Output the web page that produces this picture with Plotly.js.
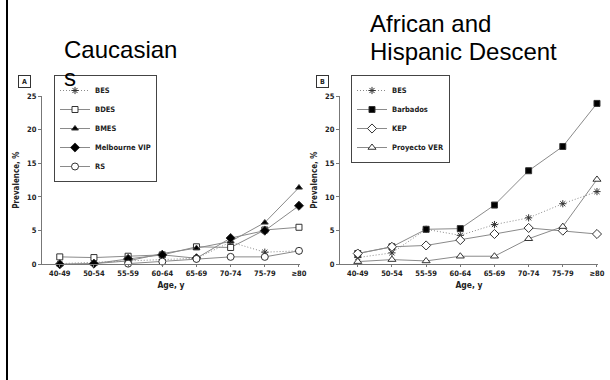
<!DOCTYPE html>
<html>
<head>
<meta charset="utf-8">
<script src="https://cdn.plot.ly/plotly-3.0.1.min.js"></script>
<style>html,body{margin:0;padding:0;background:#fff;}#chart{width:610px;height:380px;}</style>
</head>
<body>
<div id="chart"></div>
<script>
// ---- data ----
var ageGroups = ["40-49", "50-54", "55-59", "60-64", "65-69", "70-74", "75-79", "\u226580"];

// Panel A: Caucasians
var cauBES        = [0.1, 0.3, 0.5, 0.7, 0.9, 3.3, 1.8, 2.0];
var cauBDES       = [1.1, 1.0, 1.2, 1.4, 2.6, 2.5, 5.1, 5.5];
var cauBMES       = [0.0, 0.1, 0.5, 1.6, 2.4, 3.4, 6.2, 11.4];
var cauMelbourne  = [0.0, 0.1, 0.8, 1.4, 0.9, 3.9, 5.0, 8.7];
var cauRS         = [null, null, 0.1, 0.4, 0.8, 1.1, 1.1, 2.0];

// Panel B: African and Hispanic descent
var afrBES        = [1.0, 1.7, 5.2, 4.3, 5.9, 6.9, 9.0, 10.8];
var afrBarbados   = [1.6, 2.6, 5.2, 5.3, 8.8, 13.9, 17.5, 23.9];
var afrKEP        = [1.6, 2.6, 2.8, 3.6, 4.5, 5.4, 5.0, 4.5];
var afrVER        = [0.4, 0.7, 0.5, 1.2, 1.2, 3.8, 5.6, 12.6];

var panelTitles = ["Caucasian", "s", "African and", "Hispanic Descent"];
var panelLetters = ["A", "B"];
var yTicks = [0, 5, 10, 15, 20, 25];

// ---- styles ----
var W = 610, H = 380;
var lineGray = "#8a8a8a";
var mk = "#333";
var smallFont = {family: "DejaVu Sans Condensed, Liberation Sans Narrow, sans-serif", size: 7.5, color: "#222", weight: "bold"};

function tr(name, y, axis, symbol, fill, dash, legend, size) {
  return {
    type: "scatter", mode: "lines+markers", name: name,
    x: ageGroups, y: y, xaxis: axis[0], yaxis: axis[1],
    legend: legend, cliponaxis: false, connectgaps: false,
    line: {color: lineGray, width: 1, dash: dash || "solid"},
    marker: {symbol: symbol, size: size || 6, color: fill, line: {color: mk, width: 1}}
  };
}

var A = ["x", "y"], B = ["x2", "y2"];
var dotted = "1px,2px";
var data = [
  tr("BES", cauBES, A, "asterisk-open", mk, dotted, "legend", 6),
  tr("BDES", cauBDES, A, "square", "#fff", null, "legend", 6),
  tr("BMES", cauBMES, A, "triangle-up", "#000", null, "legend", 6),
  tr("Melbourne VIP", cauMelbourne, A, "diamond", "#000", null, "legend", 7),
  tr("RS", cauRS, A, "circle", "#fff", null, "legend", 7),
  tr("BES", afrBES, B, "asterisk-open", mk, dotted, "legend2", 6),
  tr("Barbados", afrBarbados, B, "square", "#000", null, "legend2", 6),
  tr("KEP", afrKEP, B, "diamond", "#fff", null, "legend2", 7),
  tr("Proyecto VER", afrVER, B, "triangle-up", "#fff", null, "legend2", 7)
];

function px2x(p) { return p / W; }
function px2y(p) { return 1 - p / H; }

var yBottom = px2y(264.3), yTop = px2y(96);

function xa(d0, d1, anchor) {
  return {
    domain: [d0, d1], anchor: anchor, type: "category",
    categoryarray: ageGroups, range: [-0.52, 7.03],
    showline: true, linecolor: "#777", linewidth: 1, showgrid: false, zeroline: false,
    ticks: "outside", ticklen: 2, tickcolor: "#777", tickfont: smallFont,
    title: {text: "Age, y", font: {family: smallFont.family, size: 8.5, color: "#222", weight: "bold"}, standoff: 4},
    fixedrange: true
  };
}
function ya(anchor) {
  return {
    domain: [yBottom, yTop], anchor: anchor, range: [0, 25],
    tickvals: yTicks, showline: true, linecolor: "#777", linewidth: 1,
    showgrid: false, zeroline: false, ticks: "outside", ticklen: 3, tickcolor: "#777",
    tickfont: smallFont,
    title: {text: "Prevalence, %", font: {family: smallFont.family, size: 8, color: "#222", weight: "bold"}, standoff: 6},
    fixedrange: true
  };
}

function legendBox(xpx, ypx) {
  return {
    x: px2x(xpx), y: px2y(ypx), xanchor: "left", yanchor: "top",
    bgcolor: "#fff", bordercolor: "#444", borderwidth: 1,
    font: smallFont, tracegroupgap: 0, itemwidth: 30
  };
}

var bigFont = {family: "Liberation Sans, Arial, sans-serif", size: 24, color: "#000"};
function bigTitle(text, xpx, ypx) {
  return {text: text, xref: "paper", yref: "paper", x: px2x(xpx), y: px2y(ypx),
          xanchor: "left", yanchor: "middle", showarrow: false, font: bigFont};
}
function letterBox(text, xpx, ypx) {
  return {text: "<b>" + text + "</b>", xref: "paper", yref: "paper", x: px2x(xpx), y: px2y(ypx),
          xanchor: "center", yanchor: "middle", showarrow: false,
          font: {family: smallFont.family, size: 7, color: "#222"},
          bordercolor: "#333", borderwidth: 1, borderpad: 1.5, bgcolor: "#fff", width: 8, height: 8};
}

var layout = {
  width: W, height: H, margin: {l: 0, r: 0, t: 0, b: 0},
  paper_bgcolor: "#fff", plot_bgcolor: "#fff",
  xaxis: xa(px2x(42), px2x(300), "y"),
  yaxis: ya("x"),
  xaxis2: xa(px2x(340), px2x(598), "y2"),
  yaxis2: ya("x2"),
  showlegend: true,
  legend: legendBox(54, 75),
  legend2: legendBox(351, 75),
  annotations: [
    bigTitle(panelTitles[0], 62, 50),
    bigTitle(panelTitles[1], 62, 78),
    bigTitle(panelTitles[2], 368, 24),
    bigTitle(panelTitles[3], 368, 52),
    letterBox(panelLetters[0], 25, 81.5),
    letterBox(panelLetters[1], 322, 81.5)
  ],
  shapes: [
    {type: "line", xref: "paper", yref: "paper", x0: px2x(7), x1: px2x(7), y0: 0, y1: 1,
     line: {color: "#000", width: 2}}
  ]
};

Plotly.newPlot("chart", data, layout, {staticPlot: true, displayModeBar: false});
</script>
</body>
</html>
